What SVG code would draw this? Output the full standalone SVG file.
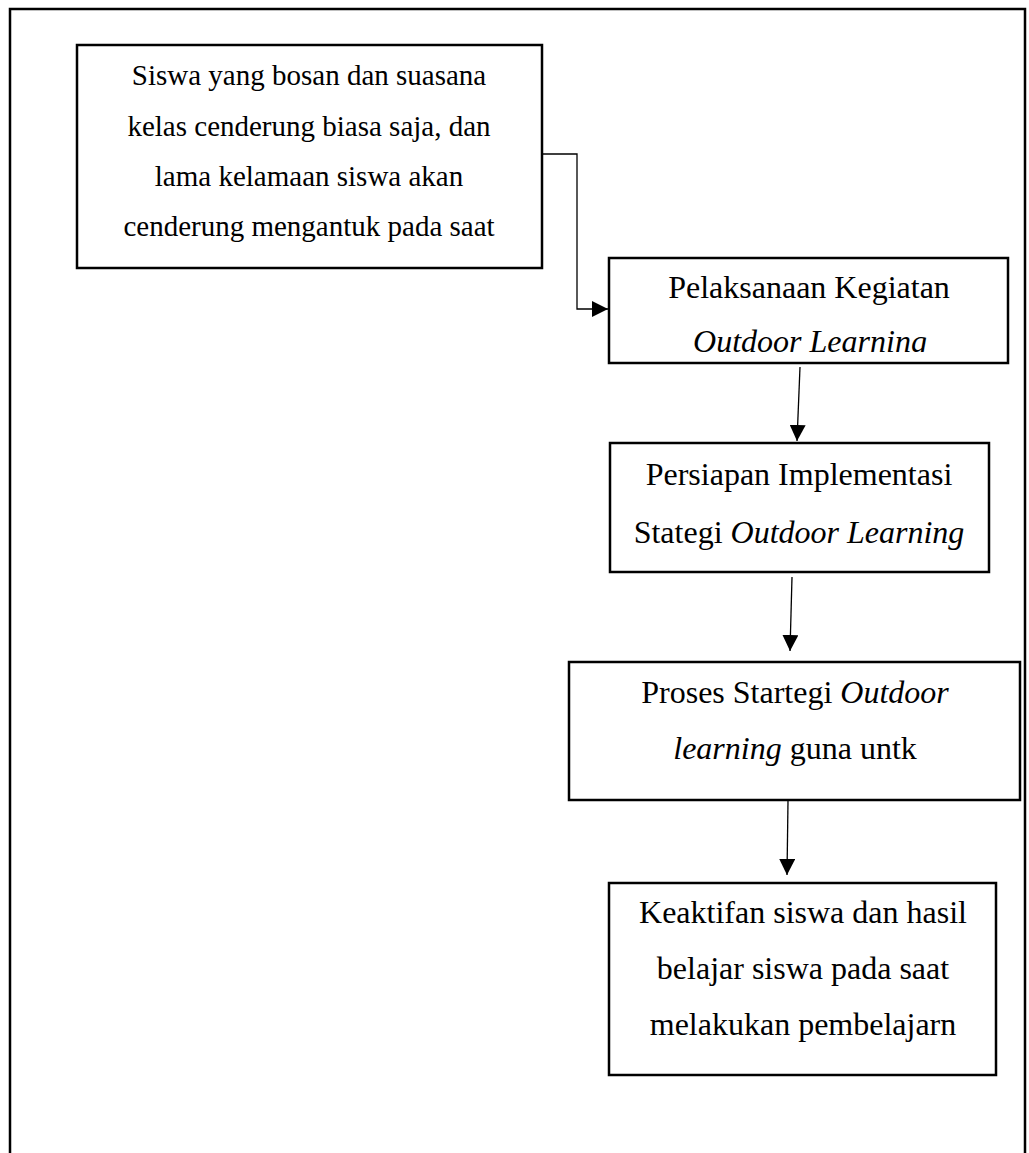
<svg xmlns="http://www.w3.org/2000/svg" width="1029" height="1153" viewBox="0 0 1029 1153">
<style>
.box{fill:#fff;stroke:#000;stroke-width:2.5}
.frame{fill:none;stroke:#000;stroke-width:2.5}
.con{fill:none;stroke:#000;stroke-width:1.3}
.t{font-family:"Liberation Serif","Times New Roman",serif;font-size:32px;fill:#000;text-anchor:middle}
.t1{font-size:29px}
.i{font-style:italic}
</style>
<defs>
<marker id="ah" markerUnits="userSpaceOnUse" markerWidth="16" markerHeight="16" viewBox="0 0 16 16" refX="16" refY="8" orient="auto">
<path d="M0,0 L16,8 L0,16 Z" fill="#000"/>
</marker>
<clipPath id="clip2"><rect x="610" y="259" width="397" height="93"/></clipPath>
</defs>
<rect width="1029" height="1153" fill="#fff"/>
<path class="frame" d="M10,1153 V9 H1025 V1153"/>
<g id="n1">
<rect class="box" x="77" y="45" width="465" height="223"/>
<text class="t t1" x="309" y="85">Siswa yang bosan dan suasana</text>
<text class="t t1" x="309" y="136">kelas cenderung biasa saja, dan</text>
<text class="t t1" x="309" y="186">lama kelamaan siswa akan</text>
<text class="t t1" x="309" y="236">cenderung mengantuk pada saat</text>
</g>
<g id="n2">
<rect class="box" x="609" y="258" width="399" height="105"/>
<g clip-path="url(#clip2)">
<text class="t" x="809" y="298">Pelaksanaan Kegiatan</text>
<text class="t i" x="810" y="352">Outdoor Learning</text>
</g>
</g>
<g id="n3">
<rect class="box" x="610" y="443" width="379" height="129"/>
<text class="t" x="799" y="485">Persiapan Implementasi</text>
<text class="t" x="799" y="543">Stategi <tspan class="i">Outdoor Learning</tspan></text>
</g>
<g id="n4">
<rect class="box" x="569" y="662" width="451" height="138"/>
<text class="t" x="795" y="703">Proses Startegi <tspan class="i">Outdoor</tspan></text>
<text class="t" x="795" y="759"><tspan class="i">learning</tspan> guna untk</text>
</g>
<g id="n5">
<rect class="box" x="609" y="883" width="387" height="192"/>
<text class="t" x="803" y="923">Keaktifan siswa dan hasil</text>
<text class="t" x="803" y="979">belajar siswa pada saat</text>
<text class="t" x="803" y="1035">melakukan pembelajarn</text>
</g>
<g id="connectors">
<path class="con" d="M542,154 H577 V309 H608" marker-end="url(#ah)"/>
<path class="con" d="M800,367 L797,441" marker-end="url(#ah)"/>
<path class="con" d="M792,577 L790,651" marker-end="url(#ah)"/>
<path class="con" d="M788,801 L787,875" marker-end="url(#ah)"/>
</g>
</svg>
